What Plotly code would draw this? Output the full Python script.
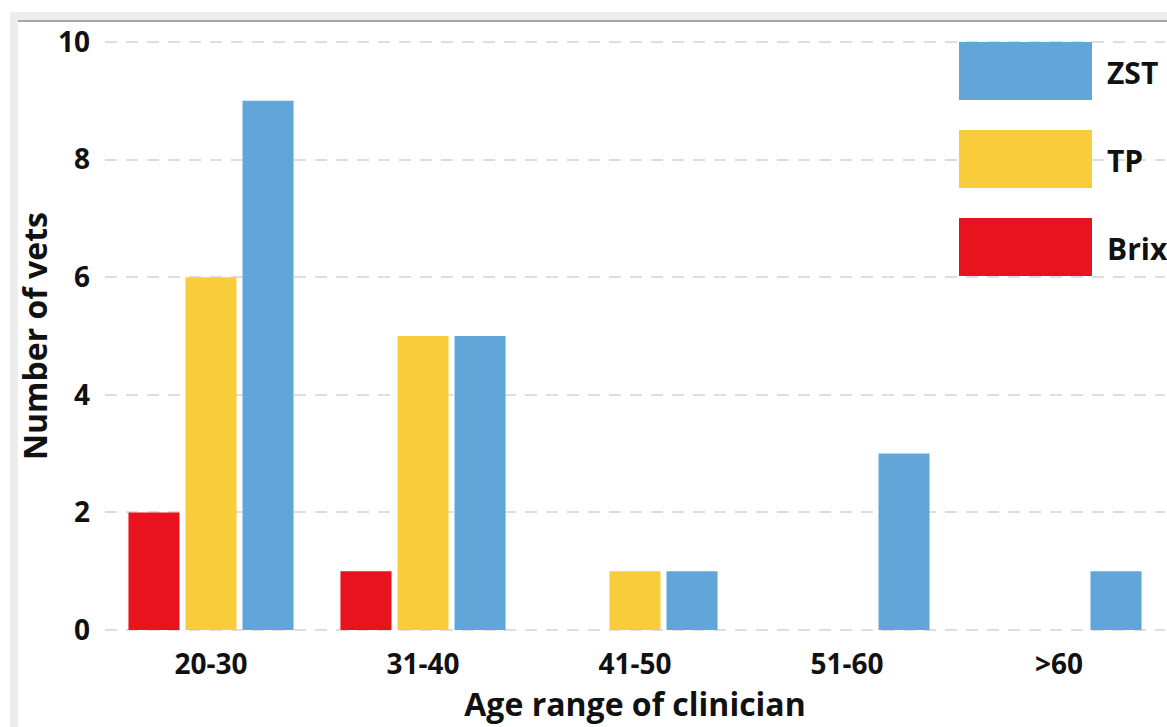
import plotly.graph_objects as go

categories = ["20-30", "31-40", "41-50", "51-60", ">60"]
series_names = ["Brix", "TP", "ZST"]
brix = [2, 1, 0, 0, 0]
tp = [6, 5, 1, 0, 0]
zst = [9, 5, 1, 3, 1]
colors = {"Brix": "#E8131F", "TP": "#F9CC3B", "ZST": "#62A6D9"}
y_ticks = [0, 2, 4, 6, 8, 10]

FONT = "Open Sans"
fig = go.Figure()
for name, vals in zip(series_names, [brix, tp, zst]):
    fig.add_trace(go.Bar(x=categories, y=vals, name=name,
                         marker=dict(color=colors[name], line=dict(width=0))))

W, H = 1167, 727
EXT = 0.05  # small range extension so gridlines at 0 and 10 show
unit = (630 - 42) / 10.0
L, R = 105, 2
T = int(round(42 - EXT * unit))
B = int(round(H - 630 - EXT * unit))
pw, ph = W - L - R, H - T - B

def px(x):
    return (x - L) / pw

def py(y):
    return (H - B - y) / ph

shapes = []
# screenshot frame
shapes.append(dict(type="rect", xref="paper", yref="paper", x0=px(10), x1=px(18), y0=py(730), y1=py(12),
                   fillcolor="#EDEDED", line=dict(width=0), layer="below"))
shapes.append(dict(type="rect", xref="paper", yref="paper", x0=px(18), x1=px(1170), y0=py(20), y1=py(12),
                   fillcolor="#EDEDED", line=dict(width=0), layer="below"))
shapes.append(dict(type="line", xref="paper", yref="paper", x0=px(18), x1=px(1170), y0=py(21), y1=py(21),
                   line=dict(color="#8A8A8A", width=1.5)))

annotations = []
# legend (large swatches, ZST on top)
legend_order = ["ZST", "TP", "Brix"]
tops = [42, 130, 218]
for name, top in zip(legend_order, tops):
    shapes.append(dict(type="rect", xref="paper", yref="paper", x0=px(959), x1=px(1092),
                       y0=py(top + 58), y1=py(top), fillcolor=colors[name], line=dict(width=0)))
    annotations.append(dict(xref="paper", yref="paper", x=px(1105), y=py(top + 31), text=name,
                            showarrow=False, xanchor="left", yanchor="middle",
                            font=dict(family=FONT, size=30, color="#111", weight="bold")))

fig.update_layout(
    width=W, height=H,
    margin=dict(l=L, r=R, t=T, b=B, pad=0),
    paper_bgcolor="white", plot_bgcolor="white",
    barmode="group", bargap=0.193, bargroupgap=0.105,
    showlegend=False,
    shapes=shapes, annotations=annotations,
    font=dict(family=FONT, color="#111"),
)
fig.update_xaxes(
    range=[-0.5, 4.5], showgrid=False, showline=False, zeroline=False,
    tickfont=dict(family=FONT, size=28, color="#111", weight="bold"),
    ticks="", ticklabelstandoff=12,
    title=dict(text="Age range of clinician", standoff=4,
               font=dict(family=FONT, size=32, color="#111", weight="bold")),
)
fig.update_yaxes(
    range=[-EXT, 10 + EXT], tickvals=y_ticks, showline=False, zeroline=False,
    showgrid=True, gridcolor="#DEDEDE", gridwidth=2, griddash="12px,9px",
    tickfont=dict(family=FONT, size=28, color="#111", weight="bold"),
    ticks="", ticklabelstandoff=14,
    title=dict(text="Number of vets", standoff=0,
               font=dict(family=FONT, size=32, color="#111", weight="bold")),
)
fig.write_html("out.html", config={"displayModeBar": False},
               post_script="document.body.style.margin='0';")
